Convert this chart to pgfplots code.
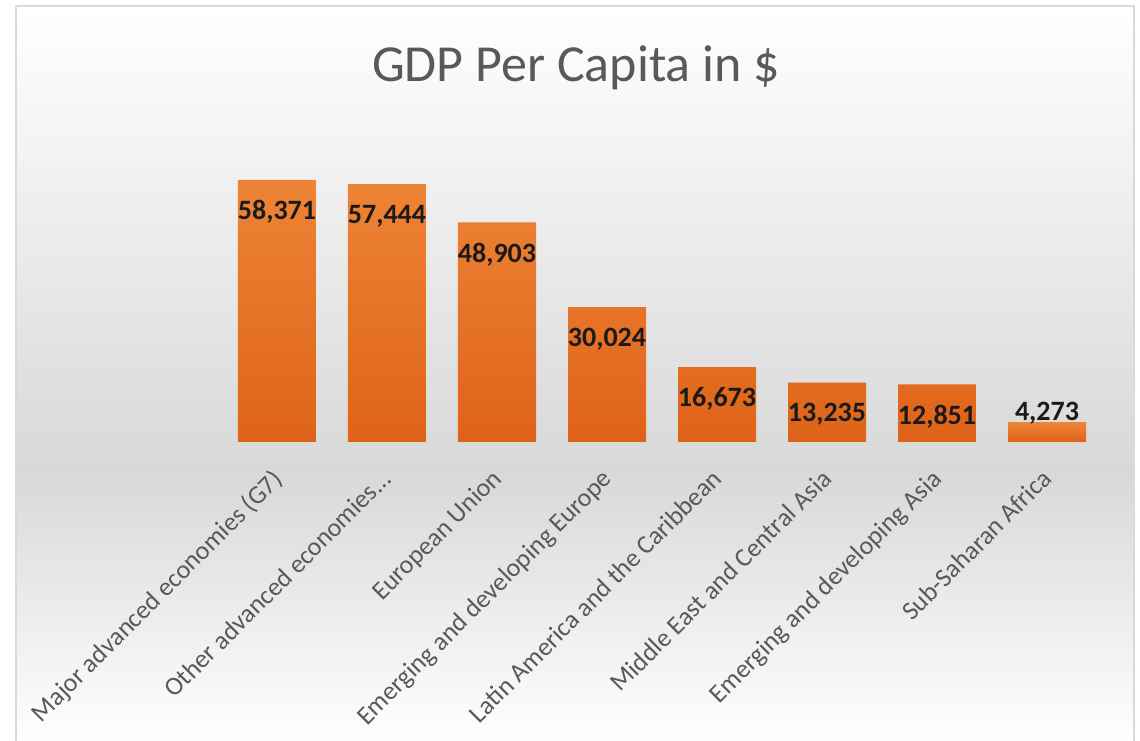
\documentclass[border=0pt]{standalone}
\usepackage{pgfplots}
\pgfplotsset{compat=1.18}
\usepackage{fontspec}
\setmainfont{Carlito}
\definecolor{barTop}{HTML}{EE8436}
\definecolor{barBot}{HTML}{DE6318}
\definecolor{txtGray}{HTML}{595959}
\definecolor{bgGray}{HTML}{D8D8D8}
\definecolor{frameGray}{HTML}{D9D9D9}
\definecolor{lblBlack}{HTML}{1C1A19}
\begin{document}
\begin{tikzpicture}
\useasboundingbox (0,0) rectangle (855pt,555.75pt);
\fill[white] (0,0) rectangle (855pt,555.75pt);
\shade[top color=bgGray, bottom color=white] (12pt,-3pt) rectangle (850.5pt,203.25pt);
\shade[top color=white, bottom color=bgGray] (12pt,203.25pt) rectangle (850.5pt,551.25pt);
\draw[frameGray, line width=1.2pt] (12pt,-3pt) rectangle (850.5pt,551.25pt);
\node[text=txtGray, font=\fontsize{39pt}{41pt}\selectfont] at (432pt,504.75pt) {GDP Per Capita in \$};
\begin{axis}[
  at={(166.5pt,224.25pt)}, anchor=south west,
  scale only axis, width=660pt, height=235.65pt,
  xmin=-0.5, xmax=7.5, ymin=0, ymax=70000,
  ybar, bar width=58.5pt,
  axis x line*=bottom, hide y axis,
  x axis line style={draw=none},
  xtick style={draw=none}, major tick length=0pt,
  xtick={0,1,2,3,4,5,6,7},
  xticklabels={Major advanced economies (G7), Other advanced economies.{}.{}., European Union, Emerging and developing Europe, Latin America and the Caribbean, Middle East and Central Asia, Emerging and developing Asia, Sub-Saharan Africa},
  xticklabel shift=19pt,
  xticklabel style={xshift=-5pt, rotate=45, anchor=north east, inner sep=0pt, font=\fontsize{19.5pt}{21pt}\selectfont, text=txtGray},
  /pgf/number format/fixed, /pgf/number format/precision=0,
  /pgf/number format/1000 sep={,}, /pgf/number format/assume math mode=true,
  clip=false,
]
\addplot[draw=none, top color=barTop, bottom color=barBot, bar shift=0pt,
  nodes near coords={\pgfmathprintnumber{\pgfplotspointmeta}},
  every node near coord/.append style={font=\bfseries\fontsize{21pt}{22pt}\selectfont, text=lblBlack, anchor=center, yshift=-24pt}]
  coordinates {(0,58371) (1,57444) (2,48903) (3,30024) (4,16673) (5,13235) (6,12851)};
\addplot[draw=none, top color=barTop, bottom color=barBot, bar shift=0pt,
  nodes near coords={\pgfmathprintnumber{\pgfplotspointmeta}},
  every node near coord/.append style={font=\bfseries\fontsize{21pt}{22pt}\selectfont, text=lblBlack, anchor=center, yshift=7.5pt}]
  coordinates {(7,4273)};
\end{axis}
\end{tikzpicture}
\end{document}
